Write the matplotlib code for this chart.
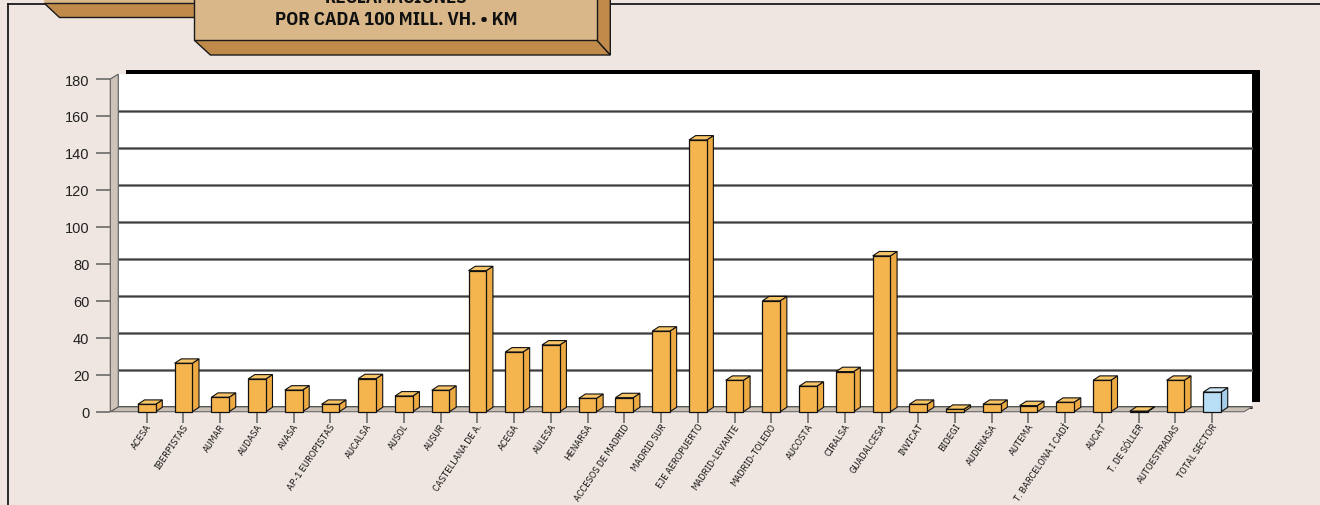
import matplotlib
matplotlib.use("Agg")
import matplotlib.pyplot as plt
from matplotlib.patches import Rectangle, Polygon
from matplotlib.lines import Line2D
import matplotlib.transforms as mtransforms

# ---------------- data ----------------
categories = ['ACESA', 'IBERPISTAS', 'AUMAR', 'AUDASA', 'AVASA', 'AP-1 EUROPISTAS',
              'AUCALSA', 'AUSOL', 'AUSUR', 'CASTELLANA DE A.', 'ACEGA', 'AULESA',
              'HENARSA', 'ACCESOS DE MADRID', 'MADRID SUR', 'EJE AEROPUERTO',
              'MADRID-LEVANTE', 'MADRID-TOLEDO', 'AUCOSTA', 'CIRALSA', 'GUADALCESA',
              'INVICAT', 'BIDEGI', 'AUDENASA', 'AUTEMA', 'T. BARCELONA I CADÍ',
              'AUCAT', 'T. DE SÓLLER', 'AUTOESTRADAS', 'TOTAL SECTOR']
values = [4.0, 26.2, 7.8, 17.7, 11.7, 4.0, 17.9, 8.5, 11.6, 76.3, 32.3, 36.1,
          7.2, 7.6, 43.6, 147.0, 17.0, 60.0, 13.8, 21.7, 84.3, 4.0, 1.3, 4.0,
          3.3, 5.1, 17.0, 0.3, 17.0, 10.6]
highlight = ['TOTAL SECTOR']
yticks = [0, 20, 40, 60, 80, 100, 120, 140, 160, 180]
title_lines = ['RECLAMACIONES', 'POR CADA 100 MILL. VH. • KM']

# ---------------- style ----------------
W, H, DPI = 1320, 506, 100
BG = '#EFE6E1'
ORANGE = ('#F4B54F', '#EDAA42', '#F7C468')   # front, side, top
BLUE = ('#B8DEF6', '#A4CDEA', '#CFE8F8')
WALL = '#CDC3B8'
FLOOR = '#C9BFB4'
TAN = '#D9B789'
BROWN = '#C08A4A'
COND = ['IBM Plex Sans Condensed', 'DejaVu Sans']
SANS = ['Liberation Sans', 'DejaVu Sans']

fig = plt.figure(figsize=(W / DPI, H / DPI), dpi=DPI, facecolor=BG)


def fp(x, y):
    """top-origin pixel -> figure fraction"""
    return (x / W, 1 - y / H)


# outer panel border
fig.add_artist(Line2D([8 / W, 8 / W], [0, 1 - 5 / H], color='#1a1a1a', lw=1.3,
                      transform=fig.transFigure, zorder=0))
fig.add_artist(Line2D([8 / W, 1], [1 - 5 / H, 1 - 5 / H], color='#1a1a1a', lw=1.3,
                      transform=fig.transFigure, zorder=0))

# title tab (small left tab)
tab_face = Polygon([fp(44, -2), fp(196, -2), fp(196, 4), fp(44, 4)], closed=True,
                   facecolor=TAN, edgecolor='none', transform=fig.transFigure, zorder=5)
tab_bevel = Polygon([fp(44, 4), fp(196, 4), fp(196, 18.3), fp(58.5, 18.3)], closed=True,
                    facecolor=BROWN, edgecolor='#1a1a1a', lw=1.0, transform=fig.transFigure, zorder=5)
fig.add_artist(tab_face)
fig.add_artist(tab_bevel)

# main title box
box_bottom = Polygon([fp(194.4, 41.3), fp(597, 41.3), fp(610.3, 56), fp(210.4, 56)], closed=True,
                     facecolor=BROWN, edgecolor='#1a1a1a', lw=1.0, transform=fig.transFigure, zorder=6)
box_right = Polygon([fp(597, -2), fp(610.3, -2), fp(610.3, 56), fp(597, 41.3)], closed=True,
                    facecolor=BROWN, edgecolor='#1a1a1a', lw=1.0, transform=fig.transFigure, zorder=6)
box_front = Polygon([fp(194.4, -2), fp(597, -2), fp(597, 41.3), fp(194.4, 41.3)], closed=True,
                    facecolor=TAN, edgecolor='#1a1a1a', lw=1.0, transform=fig.transFigure, zorder=7)
for p in (box_bottom, box_right, box_front):
    fig.add_artist(p)

fig.text(*fp(396, -2.2), title_lines[0], ha='center', va='center', fontsize=13.6,
         fontweight='bold', family=COND, color='#111111', zorder=8)
fig.text(*fp(396, 19.8), title_lines[1], ha='center', va='center', fontsize=13.6,
         fontweight='bold', family=COND, color='#111111', zorder=8)

# ---------------- axes ----------------
ax = fig.add_axes([110.3 / W, (H - 412.7) / H, (1244 - 110.3) / W, (412.7 - 80) / H])
ax.patch.set_visible(False)
for s in ax.spines.values():
    s.set_visible(False)
n = len(categories)
x = list(range(n))
ax.set_xlim(-0.991, 29.866)
ax.set_ylim(0, 180)


def shifted(base, dx, dy):
    return base + mtransforms.ScaledTranslation(dx / DPI, dy / DPI, fig.dpi_scale_trans)


BACK_DX, BACK_DY = 8, 4.8
back_t = shifted(ax.transAxes, BACK_DX, BACK_DY)
shadow_t = shifted(ax.transAxes, BACK_DX + 8, BACK_DY + 4.5)

ax.add_patch(Rectangle((0, 0), 1, 1, transform=shadow_t, facecolor='black',
                       edgecolor='none', zorder=1, clip_on=False))
ax.add_patch(Rectangle((0, 0), 1, 1, transform=back_t, facecolor='white',
                       edgecolor='none', zorder=2, clip_on=False))

# gridlines on the back plane
grid_t = mtransforms.blended_transform_factory(ax.transAxes, ax.transData)
grid_t = shifted(grid_t, BACK_DX, BACK_DY)
for v in yticks[1:-1]:
    ax.plot([0, 1], [v, v], transform=grid_t, color='#9a9a9a', lw=2.2, zorder=3,
            clip_on=False, solid_capstyle='butt')
    ax.plot([0, 1], [v, v], transform=grid_t, color='#3c3c3c', lw=1.0, zorder=3.1,
            clip_on=False, solid_capstyle='butt')
ax.plot([0, 1], [0, 0], transform=grid_t, color='black', lw=2.0, zorder=3.2,
        clip_on=False, solid_capstyle='butt')

# depth in data units
p00 = ax.transData.transform((0, 0))
p11 = ax.transData.transform((1, 1))
ppx, ppy = p11[0] - p00[0], p11[1] - p00[1]
bdx, bdy = BACK_DX / ppx, BACK_DY / ppy
x0, x1 = ax.get_xlim()

# floor
ax.add_patch(Polygon([(x0, 0), (x1, 0), (x1 + bdx, bdy), (x0 + bdx, bdy)], closed=True,
                     facecolor=FLOOR, edgecolor='#6b6b6b', lw=0.8, zorder=4, clip_on=False))
# left wall
ax.add_patch(Polygon([(x0, 0), (x0, 180), (x0 + bdx, 180 + bdy), (x0 + bdx, bdy)], closed=True,
                     facecolor=WALL, edgecolor='#5a5a5a', lw=0.8, zorder=4, clip_on=False))

# bars
bw = 17.7 / ppx
ddx, ddy = 6.7 / ppx, 4.4 / ppy
for xi, v, c in zip(x, values, categories):
    front, side, top = BLUE if c in highlight else ORANGE
    xl, xr = xi - bw / 2, xi + bw / 2
    ax.add_patch(Polygon([(xr, 0), (xr + ddx, ddy), (xr + ddx, v + ddy), (xr, v)], closed=True,
                         facecolor=side, edgecolor='#111111', lw=0.8, zorder=5, clip_on=False))
    ax.add_patch(Polygon([(xl, v), (xr, v), (xr + ddx, v + ddy), (xl + ddx, v + ddy)], closed=True,
                         facecolor=top, edgecolor='#111111', lw=0.8, zorder=5, clip_on=False))
ax.bar(x, values, width=bw, color=[BLUE[0] if c in highlight else ORANGE[0] for c in categories],
       edgecolor='#111111', linewidth=0.9, zorder=6, clip_on=False)

# ticks
ax.set_yticks(yticks)
ax.set_yticklabels([str(t) for t in yticks], family=SANS, fontsize=10.5, color='#222222')
ax.tick_params(axis='y', direction='out', length=10, width=1.2, color='#6b6b6b', pad=5)
ax.set_xticks(x)
ax.set_xticklabels(categories, family=COND, fontsize=7.3, fontweight='normal', color='#111111')
ax.tick_params(axis='x', direction='out', length=8, width=1.2, color='#6b6b6b', pad=1)
for lab in ax.get_xticklabels():
    lab.set_rotation(56)
    lab.set_ha('right')
    lab.set_va('center')
    lab.set_rotation_mode('anchor')
    lab.set_transform(lab.get_transform() +
                      mtransforms.ScaledTranslation(3 / DPI, 0, fig.dpi_scale_trans))

fig.savefig('out.png', dpi=DPI, facecolor=BG)
